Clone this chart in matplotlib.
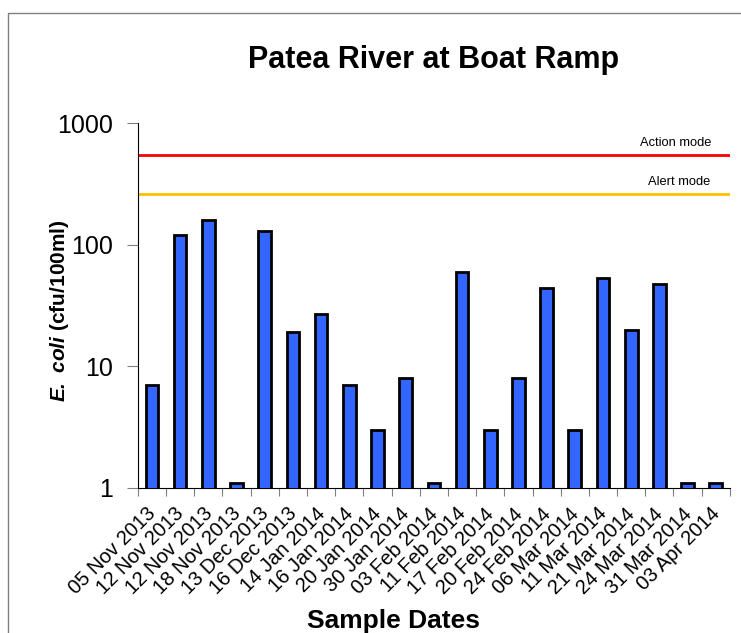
import matplotlib
matplotlib.use('Agg')
import matplotlib.pyplot as plt
from matplotlib.patches import Rectangle

plt.rcParams['font.family'] = ['Liberation Sans', 'DejaVu Sans']
plt.rcParams['mathtext.fontset'] = 'custom'
plt.rcParams['mathtext.bfit'] = 'Liberation Sans:italic:bold'
plt.rcParams['mathtext.rm'] = 'Liberation Sans:bold'

# Datos
fechas = ['05 Nov 2013', '12 Nov 2013', '12 Nov 2013', '18 Nov 2013', '13 Dec 2013',
          '16 Dec 2013', '14 Jan 2014', '16 Jan 2014', '20 Jan 2014', '30 Jan 2014',
          '03 Feb 2014', '11 Feb 2014', '17 Feb 2014', '20 Feb 2014', '24 Feb 2014',
          '06 Mar 2014', '11 Mar 2014', '21 Mar 2014', '24 Mar 2014', '31 Mar 2014',
          '03 Apr 2014']
ecoli = [7, 120, 160, 1.1, 130, 19, 27, 7, 3, 8, 1.1, 60, 3, 8, 44, 3, 53, 20, 48, 1.1, 1.1]
action_mode = 550
alert_mode = 260

fig = plt.figure(figsize=(7.41, 6.33), dpi=100)
ax = fig.add_axes([0.186, 0.2295, 0.799, 0.5755])

x = list(range(len(fechas)))
ax.bar(x, ecoli, width=0.45, color='#3366FF', edgecolor='black', linewidth=2, zorder=3)

ax.axhline(action_mode, color='#FF0000', linewidth=2, zorder=2)
ax.axhline(alert_mode, color='#FFC000', linewidth=2, zorder=2)
ax.text(19.86, action_mode * 1.12, 'Action mode', ha='right', va='bottom', fontsize=9.3)
ax.text(19.8, alert_mode * 1.12, 'Alert mode', ha='right', va='bottom', fontsize=9.3)

ax.set_yscale('log')
ax.set_ylim(1, 1000)
ax.set_xlim(-0.5, len(fechas) - 0.5)
ax.set_yticks([1, 10, 100, 1000])
ax.set_yticklabels(['1', '10', '100', '1000'], fontsize=18)
ax.minorticks_off()
ax.tick_params(axis='y', length=8, color='#808080', pad=10)

# ticks entre categorias
ax.set_xticks([i - 0.5 for i in range(len(fechas) + 1)])
ax.set_xticklabels([])
ax.tick_params(axis='x', length=6, color='#808080')
for i, f in enumerate(fechas):
    ax.text(i - 0.2, -0.045, f, rotation=45, ha='right', va='top', rotation_mode='anchor',
            fontsize=14.5, transform=ax.get_xaxis_transform())

for s in ['top', 'right']:
    ax.spines[s].set_visible(False)

ax.set_title('Patea River at Boat Ramp', fontsize=22, fontweight='bold', pad=40)
ax.set_ylabel(r'$\mathbfit{E.}$ $\mathbfit{coli}$ (cfu/100ml)', fontsize=15,
              fontweight='bold')
ax.yaxis.set_label_coords(-0.113, 0.486)
fig.text(0.531, 1 - 621 / 633, 'Sample Dates', ha='center', va='center', fontsize=19,
         fontweight='bold')

fig.patches.append(Rectangle((8 / 741, -0.1), 2, 1.1 - 13 / 633, transform=fig.transFigure,
                             fill=False, edgecolor='#808080', linewidth=1))

fig.savefig('out.png', dpi=100)
